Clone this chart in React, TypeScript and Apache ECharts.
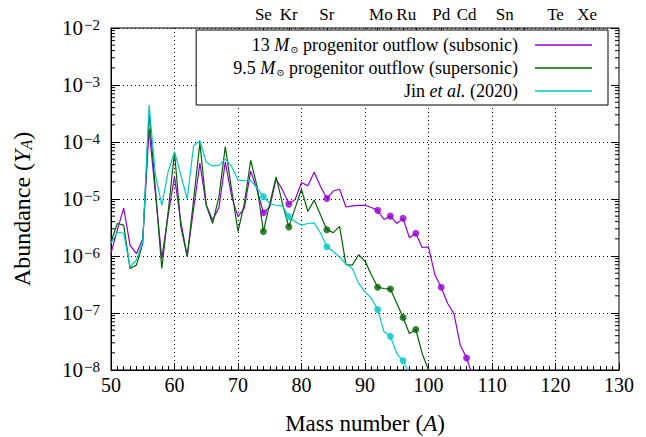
import React, { useEffect, useRef } from 'react';
import * as echarts from 'echarts';

const massNumbers = [
  50, 51, 52, 53, 54, 55, 56, 57, 58, 59, 60, 61, 62, 63, 64, 65, 66, 67, 68, 69,
  70, 71, 72, 73, 74, 75, 76, 77, 78, 79, 80, 81, 82, 83, 84, 85, 86, 87, 88, 89,
  90, 91, 92, 93, 94, 95, 96, 97, 98, 99, 100, 101, 102, 103, 104, 105, 106, 107,
];

// 13 Msun progenitor outflow (subsonic)
const subsonic = [
  1.12e-6, 2.88e-6, 6.92e-6, 1.55e-6, 1.1e-6, 2.0e-6, 1.7e-4, 1.23e-5, 9.1e-7, 5.25e-6,
  2.45e-5, 3.98e-6, 1.0e-6, 6.6e-6, 4.27e-5, 7.76e-6, 4.27e-6, 7.08e-6, 4.47e-5, 1.1e-5,
  4.9e-6, 6.92e-6, 3.09e-5, 1.45e-5, 5.75e-6, 7.24e-6, 2.24e-5, 1.45e-5, 8.13e-6, 9.77e-6,
  1.95e-5, 1.7e-5, 2.95e-5, 1.66e-5, 1.02e-5, 1.38e-5, 1.48e-5, 7.24e-6, 7.59e-6, 7.76e-6,
  7.76e-6, 7.08e-6, 6.31e-6, 4.37e-6, 5.01e-6, 3.72e-6, 4.57e-6, 2.09e-6, 2.51e-6, 1.41e-6,
  1.45e-6, 4.68e-7, 2.82e-7, 1.48e-7, 9.77e-8, 2.75e-8, 1.62e-8, 7.6e-9,
];

// 9.5 Msun progenitor outflow (supersonic)
const supersonic = [
  1.78e-6, 3.72e-6, 3.47e-6, 6.03e-7, 6.92e-7, 1.66e-6, 3.16e-4, 1.45e-5, 6.03e-7, 5.89e-6,
  6.61e-5, 3.24e-6, 9.77e-7, 9.55e-6, 9.55e-5, 7.76e-6, 3.72e-6, 1.1e-5, 8.32e-5, 1.45e-5,
  2.69e-6, 8.32e-6, 4.79e-5, 1.66e-5, 2.69e-6, 8.32e-6, 2.45e-5, 8.32e-6, 3.24e-6, 6.92e-6,
  1.48e-5, 6.03e-6, 9.55e-6, 5.25e-6, 2.88e-6, 2.57e-6, 3.31e-6, 7.08e-7, 6.92e-7, 1.05e-6,
  8.13e-7, 4.68e-7, 2.82e-7, 2.69e-7, 2.63e-7, 1.48e-7, 8.32e-8, 4.37e-8, 5.13e-8, 1.95e-8,
  1.0e-8, 5.5e-9,
];

// Jin et al. (2020)
const jin2020 = [
  1.66e-6, 2.63e-6, 2.51e-6, 6.46e-7, 8.51e-7, 1.78e-6, 4.47e-4, 2.63e-5, 7.76e-6, 3.02e-5,
  6.76e-5, 2.63e-5, 1.0e-5, 8.51e-5, 1.05e-4, 4.37e-5, 3.8e-5, 3.89e-5, 5.01e-5, 3.72e-5,
  2.14e-5, 2.09e-5, 2.14e-5, 1.55e-5, 1.1e-5, 8.32e-6, 7.76e-6, 7.59e-6, 4.9e-6, 3.98e-6,
  3.47e-6, 3.72e-6, 3.8e-6, 2.51e-6, 1.45e-6, 1.2e-6, 9.55e-7, 7.24e-7, 6.03e-7, 3.31e-7,
  2.34e-7, 1.82e-7, 1.15e-7, 4.68e-8, 3.89e-8, 1.95e-8, 1.45e-8, 8.5e-9,
];

// p-nuclei marked with filled circles
const subsonicMarks = [74, 78, 84, 92, 94, 96, 98, 102, 106];
const supersonicMarks = [74, 78, 84, 92, 94, 96, 98];
const jinMarks = [74, 78, 84, 92, 94, 96];

// top axis: element labels and p-nuclei ticks
const elementNames = ['Se', 'Kr', 'Sr', 'Mo', 'Ru', 'Pd', 'Cd', 'Sn', 'Te', 'Xe'];
const elementPos = [74, 78, 84, 92.5, 96.5, 102, 106, 112, 120, 125];
const pNucleiTicks = [74, 78, 84, 92, 94, 96, 98, 102, 106, 108, 112, 114, 115, 120, 124, 126];

// y minor ticks (log)
const decades = [1e-8, 1e-7, 1e-6, 1e-5, 1e-4, 1e-3];
const minorMultipliers = [2, 3, 4, 5, 6, 7, 8, 9];

const seriesNames = [
  '13 M⊙ progenitor outflow (subsonic)',
  '9.5 M⊙ progenitor outflow (supersonic)',
  'Jin et al. (2020)',
];
const legendRich: Record<string, string> = {
  [seriesNames[0]]: '13 {i|M}{sub|⊙} progenitor outflow (subsonic){g|}',
  [seriesNames[1]]: '9.5 {i|M}{sub|⊙} progenitor outflow (supersonic){g|}',
  [seriesNames[2]]: 'Jin {i|et al.} (2020){g|}',
};

const colors = ['#9400d3', '#006400', '#00c8c8'];
const FONT = "'Liberation Serif', 'DejaVu Serif', serif";

const App = () => {
  const ref = useRef<HTMLDivElement>(null);
  useEffect(() => {
    const chart = echarts.init(ref.current!, null, { renderer: 'svg' });
    const seriesData = [subsonic, supersonic, jin2020];
    const marks = [subsonicMarks, supersonicMarks, jinMarks];
    const pairs = (vals: number[]) => vals.map((v, i) => [massNumbers[i], v]);
    const markPairs = (vals: number[], ms: number[]) =>
      ms.map((a) => [a, vals[massNumbers.indexOf(a)]]);
    const minorTicks: number[][] = [];
    decades.forEach((d) => minorMultipliers.forEach((m) => minorTicks.push([50, d * m])));

    const dotted = { color: '#000', width: 1, type: [1, 3] as number[] };

    const option: any = {
      animation: false,
      backgroundColor: '#fff',
      grid: {
        left: 111,
        right: 27,
        top: 28,
        bottom: 67,
        show: true,
        borderColor: '#000',
        borderWidth: 1,
        backgroundColor: 'transparent',
        containLabel: false,
        outerBoundsMode: 'none',
      },
      legend: {
        data: seriesNames.map((n, k) => ({ name: n, icon: 'rect', itemStyle: { color: colors[k] } })),
        orient: 'vertical',
        align: 'right',
        right: 38,
        top: 30,
        itemWidth: 57,
        itemHeight: 1.4,
        itemGap: 5,
        padding: [6, 16, 5, 37],
        borderColor: '#000',
        borderWidth: 1,
        borderRadius: 0,
        backgroundColor: '#fff',
        selectedMode: false,
        formatter: (name: string) => legendRich[name] ?? name,
        textStyle: {
          fontFamily: FONT,
          fontSize: 18,
          lineHeight: 18,
          color: '#000',
          rich: {
            i: { fontFamily: FONT, fontSize: 18, lineHeight: 18, fontStyle: 'italic', color: '#000' },
            sub: {
              fontFamily: 'DejaVu Serif',
              fontSize: 10,
              lineHeight: 10,
              color: '#000',
              verticalAlign: 'bottom',
              padding: [8, 0, 0, 1],
            },
            g: { width: 12 },
          },
        },
      },
      xAxis: [
        {
          type: 'value',
          position: 'bottom',
          min: 50,
          max: 130,
          interval: 10,
          axisLine: { show: true, onZero: false, lineStyle: { color: '#000', width: 1 } },
          axisTick: { show: true, inside: true, length: 7, lineStyle: { color: '#000' } },
          minorTick: { show: true, splitNumber: 10, length: 4, lineStyle: { color: '#000' } },
          splitLine: { show: true, showMinLine: false, showMaxLine: false, lineStyle: dotted },
          axisLabel: { fontFamily: FONT, fontSize: 20, color: '#000', margin: 5 },
          name: 'Mass number ({i|A})',
          nameLocation: 'middle',
          nameGap: 42,
          nameTextStyle: {
            fontFamily: FONT,
            fontSize: 23,
            color: '#000',
            rich: { i: { fontFamily: FONT, fontSize: 23, fontStyle: 'italic', color: '#000' } },
          },
        },
        {
          type: 'value',
          position: 'top',
          min: 50,
          max: 130,
          axisLine: { show: false },
          axisTick: {
            show: true,
            inside: true,
            length: 5,
            customValues: pNucleiTicks,
            lineStyle: { color: '#000' },
          },
          splitLine: { show: false },
          axisLabel: {
            show: true,
            customValues: elementPos,
            fontFamily: FONT,
            fontSize: 17,
            color: '#000',
            margin: 5,
            formatter: (v: number) => {
              const idx = elementPos.findIndex((p) => Math.abs(p - v) < 1e-6);
              return idx >= 0 ? elementNames[idx] : '';
            },
          },
        },
      ],
      yAxis: [
        {
          type: 'log',
          logBase: 10,
          min: 1e-8,
          max: 1e-2,
          position: 'left',
          axisLine: { show: true, onZero: false, lineStyle: { color: '#000', width: 1 } },
          axisTick: { show: true, inside: true, length: 8, lineStyle: { color: '#000' } },
          splitLine: { show: true, showMinLine: false, showMaxLine: false, lineStyle: dotted },
          axisLabel: {
            fontFamily: FONT,
            fontSize: 21,
            color: '#000',
            margin: 11,
            formatter: (v: number) => {
              const e = Math.round(Math.log10(v));
              return `{b|10}{sup|${e < 0 ? '−' : ''}${Math.abs(e)}}`;
            },
            rich: {
              b: { fontFamily: FONT, fontSize: 21, color: '#000', verticalAlign: 'bottom', lineHeight: 21 },
              sup: {
                fontFamily: FONT,
                fontSize: 15,
                color: '#000',
                verticalAlign: 'top',
                lineHeight: 15,
                padding: [0, 0, 12, 1],
              },
            },
          },
          name: 'Abundance ({i|Y}{sub|A})',
          nameLocation: 'middle',
          nameGap: 77,
          nameRotate: 90,
          nameTextStyle: {
            fontFamily: FONT,
            fontSize: 24,
            color: '#000',
            padding: [0, 20, 0, 0],
            rich: {
              i: { fontFamily: FONT, fontSize: 24, fontStyle: 'italic', color: '#000' },
              sub: {
                fontFamily: FONT,
                fontSize: 16,
                fontStyle: 'italic',
                color: '#000',
                verticalAlign: 'bottom',
                padding: [9, 0, 0, 0],
              },
            },
          },
        },
        {
          type: 'log',
          logBase: 10,
          min: 1e-8,
          max: 1e-2,
          position: 'right',
          axisLine: { show: false },
          axisTick: { show: true, inside: true, length: 8, lineStyle: { color: '#000' } },
          axisLabel: { show: false },
          splitLine: { show: false },
        },
      ],
      series: [
        ...seriesNames.map((name, k) => ({
          type: 'line',
          name,
          data: pairs(seriesData[k]),
          symbol: 'none',
          lineStyle: { color: colors[k], width: 1.2 },
          itemStyle: { color: colors[k] },
          clip: true,
          z: 2 + k,
        })),
        ...seriesNames.map((name, k) => ({
          type: 'scatter',
          name: name + ' marks',
          data: markPairs(seriesData[k], marks[k]),
          symbol: 'circle',
          symbolSize: 7,
          itemStyle: { color: colors[k] },
          z: 6 + k,
        })),
        {
          type: 'custom',
          name: 'yMinorTicks',
          data: minorTicks,
          silent: true,
          clip: false,
          renderItem: (_params: any, api: any) => {
            const v = api.value(1);
            const pL = api.coord([50, v]);
            const pR = api.coord([130, v]);
            return {
              type: 'group',
              children: [
                { type: 'line', shape: { x1: pL[0], y1: pL[1], x2: pL[0] + 4, y2: pL[1] }, style: { stroke: '#000', lineWidth: 1 } },
                { type: 'line', shape: { x1: pR[0] - 4, y1: pR[1], x2: pR[0], y2: pR[1] }, style: { stroke: '#000', lineWidth: 1 } },
              ],
            };
          },
        },
      ],
    };
    chart.setOption(option);
    return () => chart.dispose();
  }, []);
  return (
    <div
      ref={ref}
      style={{ position: 'absolute', left: 0, top: 0, width: 646, height: 437, background: '#fff' }}
    />
  );
};

export default App;
